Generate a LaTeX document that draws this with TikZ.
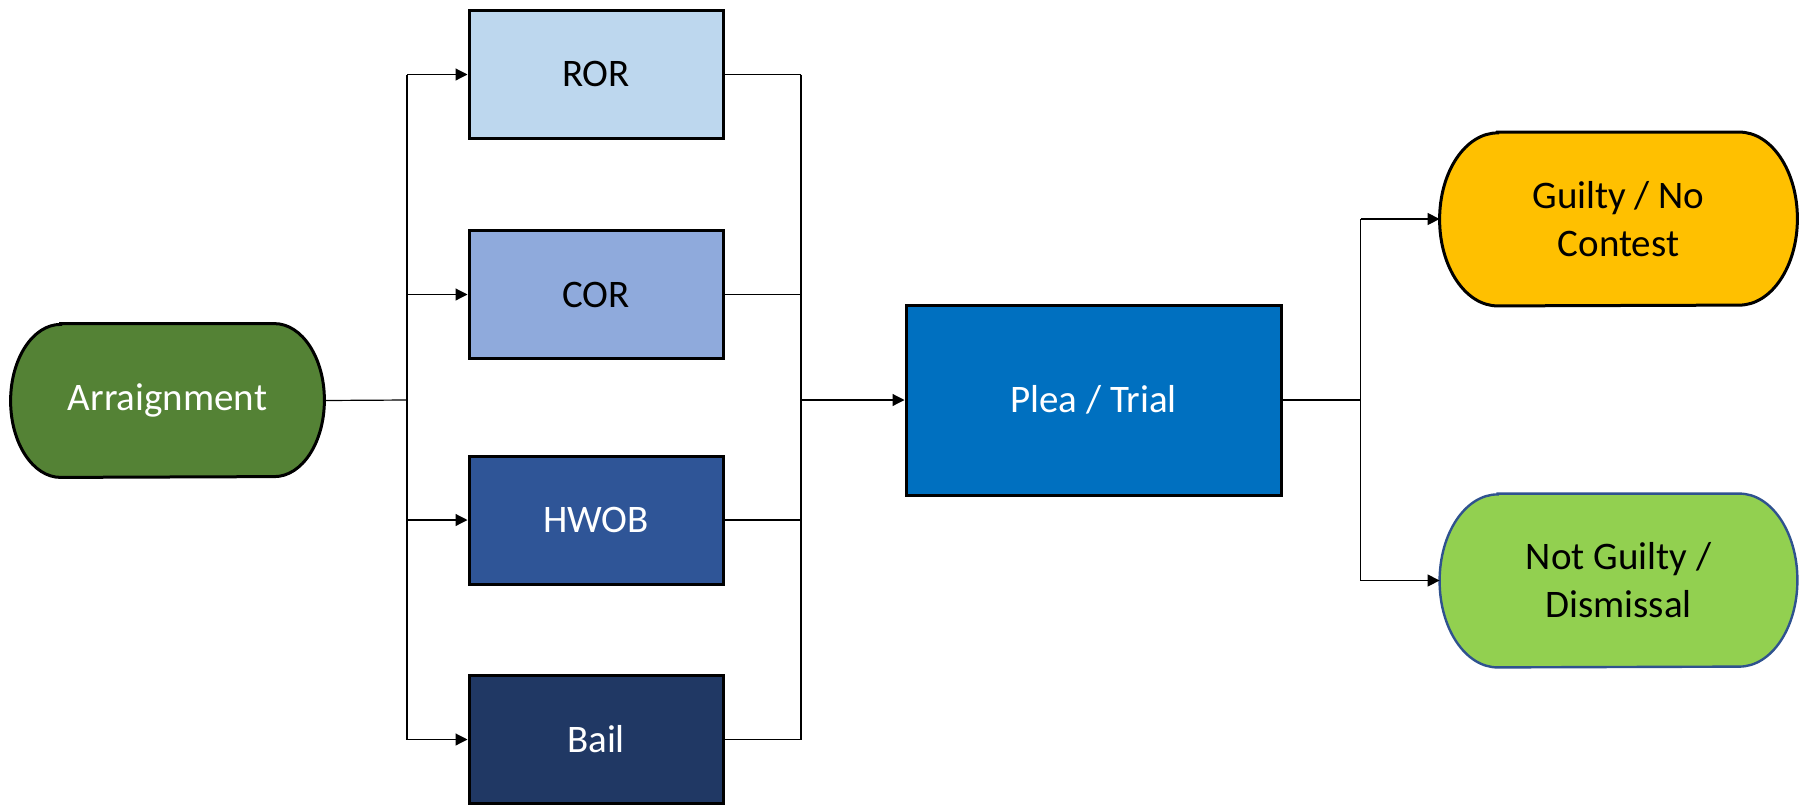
\documentclass[tikz,border=0pt]{standalone}
\usepackage{fontspec}
\setmainfont{Carlito}
\usetikzlibrary{arrows.meta,backgrounds}
\definecolor{arrgreen}{HTML}{548235}
\definecolor{rorblue}{HTML}{BDD7EE}
\definecolor{corblue}{HTML}{8FAADC}
\definecolor{hwobblue}{HTML}{2F5597}
\definecolor{bailblue}{HTML}{203864}
\definecolor{pleablue}{HTML}{0070C0}
\definecolor{guiltyorange}{HTML}{FFC000}
\definecolor{ngreen}{HTML}{92D050}
\definecolor{ngborder}{HTML}{2F528F}
% terminal outline: straight top/bottom, elliptical ends
\newcommand{\termshape}[6]{% node, half-height, end radius, fill, line width, draw colour
  \draw[line width=#5, draw=#6, fill=#4]
    ([xshift=#3]#1.north west) -- ([xshift=-#3]#1.north east)
    arc[start angle=90, end angle=-90, x radius=#3, y radius=#2]
    -- ([xshift=#3]#1.south west)
    arc[start angle=270, end angle=90, x radius=#3, y radius=#2] -- cycle;}
\begin{document}
\begin{tikzpicture}[x=0.5pt, y=-0.5pt,
  every node/.style={font=\fontsize{19.5pt}{24pt}\selectfont, align=center, inner sep=0pt},
  box/.style={draw=black, line width=1.5pt, minimum width=127pt, minimum height=64pt},
  term/.style={draw=none, minimum width=#1},
  link/.style={line width=0.6pt, draw=black},
  arrowlink/.style={link, -{Triangle[length=6pt, width=6pt]}}]
\useasboundingbox (0,0) rectangle (1800,804);

% nodes
\node[term=156.5pt, minimum height=76.5pt, text=white] (arr) at (167.5,400.5) {Arraignment};
\node[box, fill=rorblue] (ror) at (596,74) {ROR};
\node[box, fill=corblue] (cor) at (596,294.5) {COR};
\node[box, fill=hwobblue, text=white] (hwob) at (596,520) {HWOB};
\node[box, fill=bailblue, text=white] (bail) at (596,739.5) {Bail};
\node[box, fill=pleablue, text=white, minimum width=187.5pt, minimum height=95pt] (plea) at (1093.5,400) {Plea / Trial};
\node[term=178.5pt, minimum height=86.5pt] (guilty) at (1618.5,219) {Guilty / No\\Contest};
\node[term=178.5pt, minimum height=86.5pt] (notg) at (1618.5,580.5) {Not Guilty /\\Dismissal};

\begin{scope}[on background layer]
  \termshape{arr}{38.25pt}{25pt}{arrgreen}{1.5pt}{black}
  \termshape{guilty}{43.25pt}{29pt}{guiltyorange}{1.5pt}{black}
  \termshape{notg}{43.25pt}{29pt}{ngreen}{1.2pt}{ngborder}
\end{scope}

% bus coordinates
\coordinate (sl) at (407,400);
\coordinate (slt) at (407,74.5);
\coordinate (slb) at (407,739.5);
\coordinate (jr) at (801,400);
\coordinate (jrt) at (801,74.5);
\coordinate (jrb) at (801,739.5);
\coordinate (so) at (1360.5,400);
\coordinate (sot) at (1360.5,219);
\coordinate (sob) at (1360.5,580.5);

% arraignment to release options
\draw[link] (arr.east) -- (sl);
\draw[link] (slt) -- (slb);
\draw[arrowlink] (slt) -- (ror.west |- slt);
\draw[arrowlink] (407,294.5) -- (cor.west);
\draw[arrowlink] (407,520) -- (hwob.west);
\draw[arrowlink] (slb) -- (bail.west);

% release options to plea / trial
\draw[link] (ror.east |- jrt) -- (jrt);
\draw[link] (cor.east) -- (801,294.5);
\draw[link] (hwob.east) -- (801,520);
\draw[link] (bail.east) -- (jrb);
\draw[link] (jrt) -- (jrb);
\draw[arrowlink] (jr) -- (plea.west);

% plea / trial to outcomes
\draw[link] (plea.east) -- (so);
\draw[link] (sot) -- (sob);
\draw[arrowlink] (sot) -- (guilty.west);
\draw[arrowlink] (sob) -- (notg.west);
\end{tikzpicture}
\end{document}
